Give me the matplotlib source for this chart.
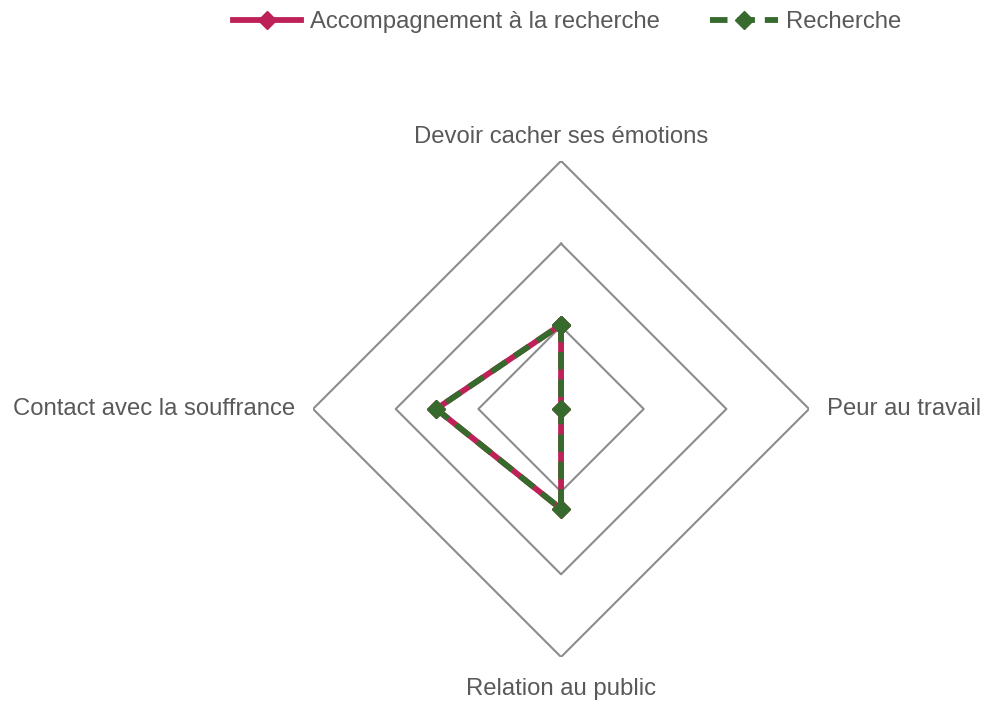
import numpy as np
import matplotlib.pyplot as plt

plt.rcParams['font.family'] = ['Liberation Sans', 'DejaVu Sans']

# data
categories = ["Devoir cacher ses émotions", "Peur au travail",
              "Relation au public", "Contact avec la souffrance"]
accompagnement = [1.02, 0.0, 1.21, 1.51]
recherche = [1.02, 0.0, 1.21, 1.51]
ring_levels = [1, 2, 3]

pink = "#BE2157"
green = "#376A2D"
grid_color = "#8C8C8C"
text_color = "#595959"

fig = plt.figure(figsize=(9.85, 7.01), dpi=100)
ax = fig.add_axes([0.3178, 0.0628, 0.5036, 0.7076], projection='polar')
ax.set_theta_offset(np.pi / 2)
ax.set_theta_direction(-1)

angles = np.linspace(0, 2 * np.pi, len(categories), endpoint=False)
closed = np.append(angles, angles[0])

# polygon rings instead of circles
for lvl in ring_levels:
    ax.plot(closed, [lvl] * len(closed), color=grid_color, lw=1.5, zorder=1)

vals = accompagnement + accompagnement[:1]
ax.plot(closed, vals, color=pink, lw=4.2, marker='D', markersize=9,
        label="Accompagnement à la recherche", zorder=3)
vals = recherche + recherche[:1]
ax.plot(closed, vals, color=green, lw=4.2, marker='D', markersize=9,
        dashes=(3.0, 1.7), label="Recherche", zorder=4)

ax.set_ylim(0, 3)
ax.grid(False)
ax.spines['polar'].set_visible(False)
ax.set_xticks([])
ax.set_yticks([])
ax.patch.set_alpha(0)

# axis labels
offsets = [(0, 9, 'center', 'bottom'), (13, 0, 'left', 'center'),
           (0, -15, 'center', 'top'), (-13, 0, 'right', 'center')]
for ang, name, (dx, dy, ha, va) in zip(angles, categories, offsets):
    ax.annotate(name, xy=(ang, 3), xytext=(dx, dy), textcoords='offset points',
                ha=ha, va=va, fontsize=17.2, color=text_color)

fig.legend(loc='upper center', bbox_to_anchor=(0.576, 1.015), ncol=2,
           frameon=False, fontsize=17.2, handlelength=2.85, columnspacing=2.1,
           handletextpad=0.35, labelcolor=text_color)

fig.savefig("out.png", dpi=100)
